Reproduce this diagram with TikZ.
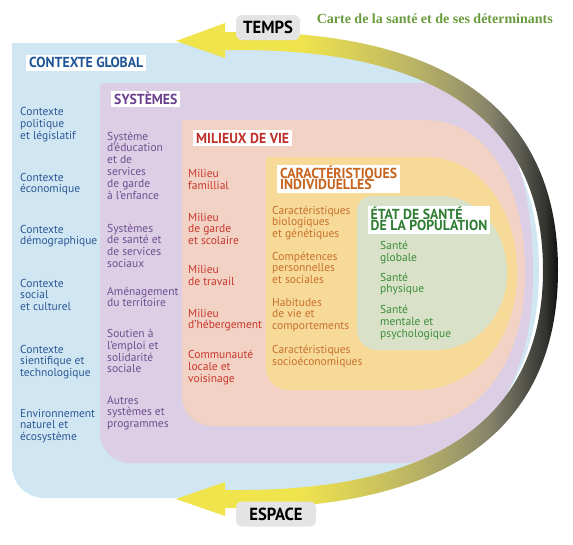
\documentclass[tikz,border=0pt]{standalone}
\usepackage{fontspec}
\setmainfont{PT Sans}
\newfontfamily\hdfont[FakeStretch=0.95]{PT Sans}
\newfontfamily\ttlfont{Liberation Serif}

\definecolor{cblue}{HTML}{D0E6F2}
\definecolor{cpurple}{HTML}{DCCEE4}
\definecolor{cpeach}{HTML}{F2D2C4}
\definecolor{cyellow}{HTML}{F7DA98}
\definecolor{cgreen}{HTML}{D9E2C8}
\definecolor{tblue}{HTML}{2C5896}
\definecolor{tpurple}{HTML}{6E5090}
\definecolor{tred}{HTML}{C8372D}
\definecolor{torange}{HTML}{C8702E}
\definecolor{tgreen}{HTML}{3C8C3C}
\definecolor{hblue}{HTML}{1F5496}
\definecolor{hpurple}{HTML}{6B3F8F}
\definecolor{hred}{HTML}{C0302A}
\definecolor{horange}{HTML}{C8641E}
\definecolor{hgreen}{HTML}{2E7D32}
\definecolor{ttlgreen}{HTML}{699B3C}
\definecolor{lblgray}{HTML}{E4E4E4}
\definecolor{aa}{HTML}{F0E44C}
\definecolor{ab}{HTML}{D9CF58}
\definecolor{ac}{HTML}{C2BA62}
\definecolor{ad}{HTML}{A4A06A}
\definecolor{ae}{HTML}{85836A}
\definecolor{af}{HTML}{5C5C52}
\definecolor{ag}{HTML}{333330}
\definecolor{ah}{HTML}{111111}

\pgfdeclarehorizontalshading{arrowshade}{100bp}{color(0bp)=(aa); color(41bp)=(aa); color(47.8bp)=(ab); color(54.3bp)=(ac); color(60.9bp)=(ad); color(66.1bp)=(ae); color(70bp)=(af); color(73.3bp)=(ag); color(75bp)=(ah); color(100bp)=(ah)}

% L T B R cxT cxB k rb rt
\newcommand\regionshape[9]{%
 (#1,{#2+#9}) .. controls (#1,{#2+0.448*#9}) and ({#1+0.448*#9},#2) .. ({#1+#9},#2)
 -- (#5,#2) .. controls ({#5+#7*(#4-#5)},#2) and (#4,{(#2+#3)/2-#7*(#3-#2)/2}) .. (#4,{(#2+#3)/2})
 .. controls (#4,{(#2+#3)/2+#7*(#3-#2)/2}) and ({#6+#7*(#4-#6)},#3) .. (#6,#3)
 -- ({#1+#8},#3) .. controls ({#1+0.448*#8},#3) and (#1,{#3-0.448*#8}) .. (#1,{#3-#8}) -- cycle}

\newcommand\ml[1]{\begin{tabular}[t]{@{}l@{}}#1\end{tabular}}

\tikzset{
 txt/.style={anchor=base west, inner sep=0pt, font=\fontsize{11.5}{11.8}\selectfont},
 hdr/.style={anchor=base west, fill=white, inner xsep=3pt, inner ysep=2pt,
   text height=10.8pt, text depth=1pt, font=\hdfont\bfseries\fontsize{14.5}{11.5}\selectfont},
 hdrtwo/.style={hdr, text depth=12.5pt},
 lbl/.style={fill=lblgray, rounded corners=6pt, minimum height=25pt, inner xsep=6pt,
   text=black, font=\hdfont\bfseries\fontsize{17.5}{17}\selectfont}
}

\begin{document}
\begin{tikzpicture}[x=1pt,y=-1pt]
\useasboundingbox (0,0) rectangle (573,544);

% regions
\fill[cblue]   \regionshape{12}{43}{498}{539}{240}{240}{0.66}{32}{0};
\fill[cpurple] \regionshape{100}{83}{463}{533}{435}{400}{0.6}{30}{3};
\fill[cpeach]  \regionshape{182}{120}{426}{525}{425}{405}{0.6}{30}{0};
\fill[cyellow] \regionshape{266}{157}{390}{517}{425}{415}{0.58}{22}{2};
\fill[cgreen]  \regionshape{357}{196}{350}{507}{440}{435}{0.56}{20}{15};

% time/space arrow band
\shade[shading=arrowshade] (176,41) -- (225,23) -- (225,32) -- (240,32)
 .. controls ({240+0.66*318},32) and (558,{270-0.66*238}) .. (558,270)
 .. controls (558,{270+0.66*238}) and ({240+0.66*318},508) .. (240,508)
 -- (225,508) -- (225,516) -- (176,499) -- (225,482) -- (225,490) -- (240,490)
 .. controls ({240+0.66*303},490) and (543,{270+0.66*220}) .. (543,270)
 .. controls (543,{270-0.66*220}) and ({240+0.66*303},50) .. (240,50)
 -- (225,50) -- (225,58) -- cycle;

\node[lbl, minimum width=64pt] (temps) at (268,27.5) {TEMPS};
\node[lbl, minimum width=80pt] (espace) at (276,514) {ESPACE};

\node[anchor=base east, inner sep=0pt, text=ttlgreen, font=\ttlfont\bfseries\fontsize{14}{16}\selectfont] (title) at (553,23) {Carte de la santé et de ses déterminants};

% headers
\node[hdr, text=hblue] (hG) at (26,67.5) {CONTEXTE GLOBAL};
\node[hdr, text=hpurple] (hS) at (111,104) {SYSTÈMES};
\node[hdr, text=hred] (hM) at (193,143) {MILIEUX DE VIE};
\node[hdrtwo, text=horange] (hC) at (277,178) {\ml{\smash{CARACTÉRISTIQUES}\\\smash{INDIVIDUELLES}}};
\node[hdrtwo, text=hgreen] (hE) at (367.5,219) {\ml{\smash{ÉTAT DE SANTÉ}\\\smash{DE LA POPULATION}}};

% contexte global
\begin{scope}[every node/.append style={txt, text=tblue}]
\node (c1) at (20,115.5) {\ml{Contexte\\politique\\et législatif}};
\node (c2) at (20,181) {\ml{Contexte\\économique}};
\node (c3) at (20,233) {\ml{Contexte\\démographique}};
\node (c4) at (20,287) {\ml{Contexte\\social\\et culturel}};
\node (c5) at (20,353) {\ml{Contexte\\sientifique et\\technologique}};
\node (c6) at (20,417) {\ml{Environnement\\naturel et\\écosystème}};
\end{scope}

% systemes
\begin{scope}[every node/.append style={txt, text=tpurple}]
\node (s1) at (107,140) {\ml{Système\\d’éducation\\et de\\services\\de garde\\à l’enfance}};
\node (s2) at (107,232) {\ml{Systèmes\\de santé et\\de services\\sociaux}};
\node (s3) at (107,295) {\ml{Aménagement\\du territoire}};
\node (s4) at (107,337.5) {\ml{Soutien à\\l’emploi et\\solidarité\\sociale}};
\node (s5) at (107,404) {\ml{Autres\\systèmes et\\programmes}};
\end{scope}

% milieux de vie
\begin{scope}[every node/.append style={txt, text=tred}]
\node (m1) at (188,177.5) {\ml{Milieu\\famillial}};
\node (m2) at (188,221) {\ml{Milieu\\de garde\\et scolaire}};
\node (m3) at (188,273.5) {\ml{Milieu\\de travail}};
\node (m4) at (188,317) {\ml{Milieu\\d’hébergement}};
\node (m5) at (188,358.5) {\ml{Communauté\\locale et\\voisinage}};
\end{scope}

% caracteristiques individuelles
\begin{scope}[every node/.append style={txt, text=torange}]
\node (k1) at (272,214) {\ml{Caractéristiques\\biologiques\\et génétiques}};
\node (k2) at (272,260) {\ml{Compétences\\personnelles\\et sociales}};
\node (k3) at (272,306) {\ml{Habitudes\\de vie et\\comportements}};
\node (k4) at (272,353.5) {\ml{Caractéristiques\\socioéconomiques}};
\end{scope}

% etat de sante
\begin{scope}[every node/.append style={txt, text=tgreen}]
\node (g1) at (380,249.5) {\ml{Santé\\globale}};
\node (g2) at (380,281) {\ml{Santé\\physique}};
\node (g3) at (380,313.5) {\ml{Santé\\mentale et\\psychologique}};
\end{scope}
\end{tikzpicture}
\end{document}
